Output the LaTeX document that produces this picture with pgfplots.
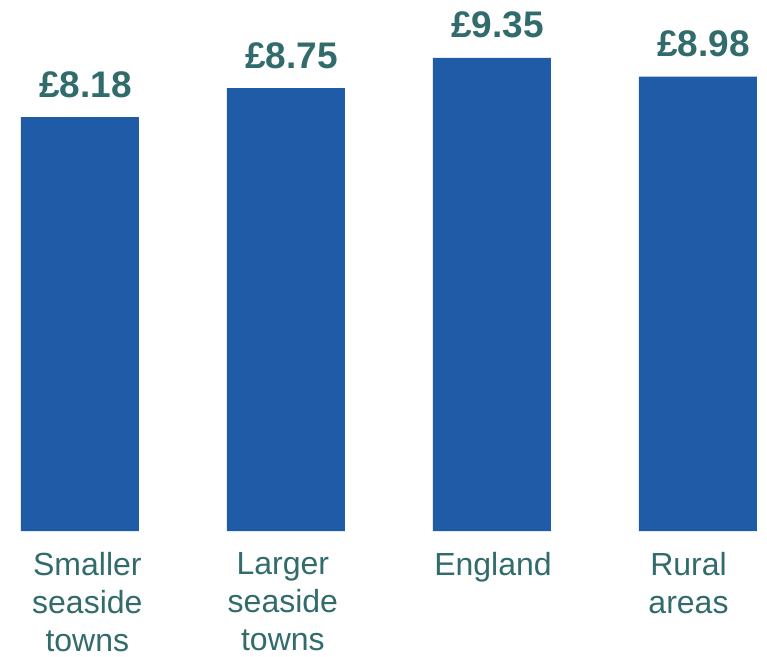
\documentclass[border=0pt]{standalone}
\usepackage{pgfplots}
\pgfplotsset{compat=1.18}
\usepackage{fontspec}
\setmainfont{Liberation Sans}
\definecolor{barblue}{HTML}{1F5BA7}
\definecolor{labteal}{HTML}{326B6B}
\begin{document}
\begin{tikzpicture}
\begin{axis}[
    scale only axis,
    width=767pt, height=531pt,
    at={(0,0)}, anchor=south west,
    xmin=-0.388, xmax=3.335,
    ymin=0, ymax=10.494,
    axis line style={draw=none},
    ytick=\empty,
    major tick length=0pt,
    xtick={0.036,0.985,2.005,2.954},
    xticklabels={Smaller\\seaside\\towns, Larger\\seaside\\towns, England, Rural\\areas},
    xticklabel style={anchor=north, inner sep=0pt, yshift=-21pt, align=center,
        text=labteal, font=\fontsize{32}{38}\selectfont},
    /pgf/number format/assume math mode=true,
    ybar, bar width=118pt,
    nodes near coords={£\pgfmathprintnumber[fixed, fixed zerofill, precision=2]{\pgfplotspointmeta}},
    nodes near coords style={anchor=base, inner sep=0pt, yshift=20pt, xshift=5.5pt,
        text=labteal, font=\fontsize{37}{40}\selectfont\bfseries},
    clip=false,
]
\addplot[fill=barblue, draw=none] coordinates {(0,8.18) (1,8.75) (2,9.35) (3,8.98)};
\end{axis}
\pgfresetboundingbox
\path (0,-125pt) rectangle (767pt,531pt);
\end{tikzpicture}
\end{document}
